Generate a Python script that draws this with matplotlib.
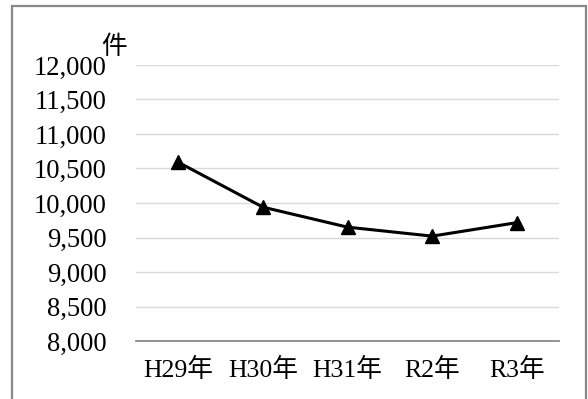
import matplotlib
matplotlib.use("Agg")
import matplotlib.pyplot as plt
from matplotlib.patches import Rectangle
from matplotlib.ticker import FuncFormatter

categories = ["H29年", "H30年", "H31年", "R2年", "R3年"]
values = [10590, 9940, 9650, 9520, 9715]
yticks = [8000, 8500, 9000, 9500, 10000, 10500, 11000, 11500, 12000]
unit_label = "件"

FONT = ["Liberation Serif", "Noto Sans CJK JP"]
plt.rcParams["font.family"] = FONT

W, H = 588, 399
fig = plt.figure(figsize=(W / 100, H / 100), dpi=100)
ax = fig.add_axes([136 / W, 58 / H, 423 / W, 276 / H])

x = list(range(len(categories)))
ax.plot(x, values, color="black", linewidth=2.2, marker="^", markersize=10.5,
        markerfacecolor="black", markeredgecolor="black", zorder=3)

ax.set_xlim(-0.5, len(categories) - 0.5)
ax.set_ylim(yticks[0], yticks[-1])
ax.set_yticks(yticks)
ax.yaxis.set_major_formatter(FuncFormatter(lambda v, p: f"{int(v):,}"))
ax.set_xticks(x)
ax.set_xticklabels(categories)

ax.grid(axis="y", color="#d9d9d9", linewidth=1.0, zorder=0)
ax.set_axisbelow(True)
for s in ["top", "right", "left"]:
    ax.spines[s].set_visible(False)
ax.spines["bottom"].set_color("#898989")
ax.spines["bottom"].set_linewidth(1.3)

ax.tick_params(axis="y", length=0, pad=21, labelsize=19.2, colors="black")
ax.tick_params(axis="x", length=0, pad=12, labelsize=18.5, colors="black")

fig.text(101 / W, 1 - 47 / H, unit_label, fontsize=18.5, family=FONT,
         ha="left", va="center")

border = Rectangle((11.5 / W, -0.05), (586 - 11.5) / W, (H - 5.5) / H + 0.05,
                   transform=fig.transFigure, fill=False, edgecolor="#888888",
                   linewidth=1.6, clip_on=False)
fig.patches.append(border)

fig.savefig("out.png", dpi=100)
